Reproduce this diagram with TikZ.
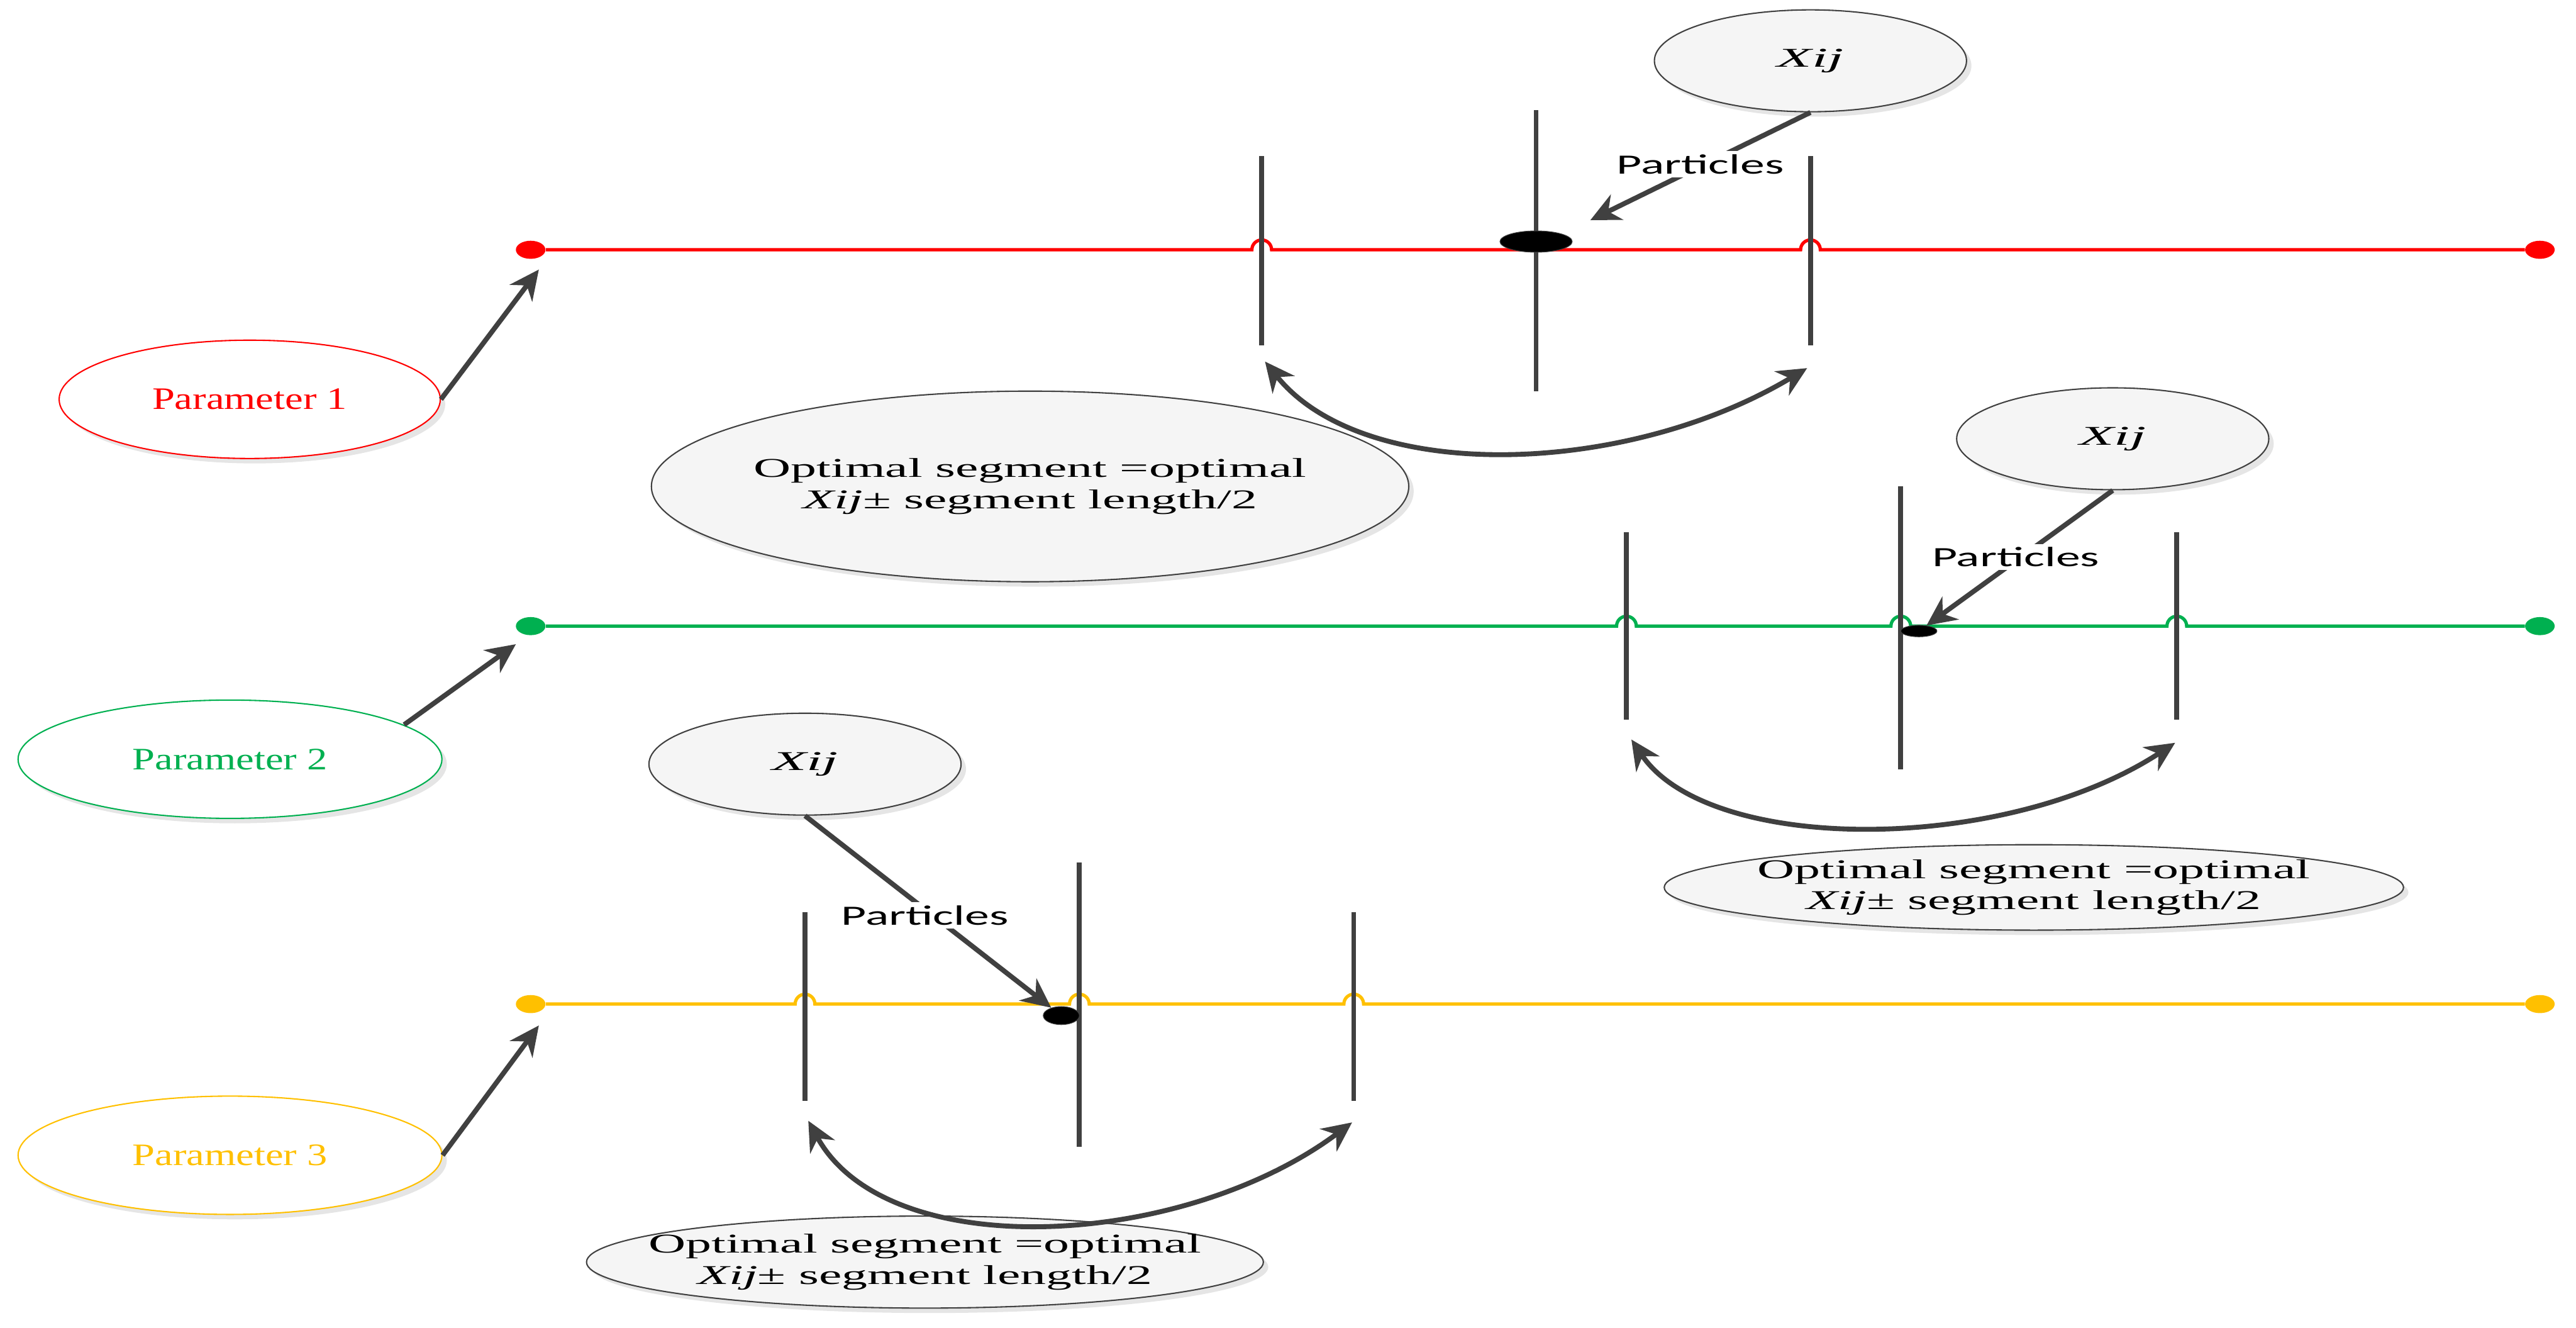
\documentclass[tikz,border=0pt]{standalone}
\usepackage{fontspec}
\setmainfont{Liberation Serif}
\newfontfamily\carl{Carlito}
\usetikzlibrary{shapes.geometric,shadows,arrows.meta}
\definecolor{pred}{HTML}{FF0000}
\definecolor{pgreen}{HTML}{00B050}
\definecolor{pyel}{HTML}{FFC000}
\definecolor{dk}{HTML}{404040}
\newcommand{\sxx}[2]{\scalebox{#1}[1]{#2}}
\begin{document}
\begin{tikzpicture}[x=1pt,y=-1pt,
  bub/.style={ellipse,draw=dk,line width=0.8pt,fill=gray!8,drop shadow={shadow xshift=3pt,shadow yshift=-3pt,fill=gray!40,opacity=0.5},inner sep=0pt},
  txt/.style={font=\fontsize{16.5}{19}\selectfont,align=center,inner sep=0pt},
  ptxt/.style={font=\fontsize{19}{22}\selectfont,inner sep=0pt},
  par/.style={ellipse,line width=0.8pt,fill=white,drop shadow={shadow xshift=3pt,shadow yshift=-3pt,fill=gray!40,opacity=0.5},inner sep=0pt},
  arr/.style={draw=dk,line width=3pt,-{Stealth[length=18pt,width=17pt]}},
  darr/.style={draw=dk,line width=3pt,{Stealth[length=18pt,width=17pt]}-{Stealth[length=18pt,width=17pt]}},
  bar/.style={draw=dk,line width=3pt},
  lbl/.style={fill=white,inner sep=2pt,font=\carl\fontsize{17}{19}\selectfont},
  dot/.style={ellipse,minimum width=18pt,minimum height=11pt,inner sep=0pt},
  pt/.style={ellipse,fill=black,draw=dk,inner sep=0pt}]
\useasboundingbox (0,0) rectangle (1568,808);

% ---------- Parameter 1 (red) ----------
\node[dot,fill=pred] (r0) at (323,152) {};
\node[dot,fill=pred] (r1) at (1546,152) {};
\draw[pred,line width=2pt] (r0) -- (762,152) arc (180:360:6) -- (1096,152) arc (180:360:6) -- (r1);
\coordinate (ra1) at (768,95); \coordinate (rb1) at (768,210);
\coordinate (ra2) at (935,67); \coordinate (rb2) at (935,238);
\coordinate (ra3) at (1102,95); \coordinate (rb3) at (1102,210);
\draw[bar] (ra1)--(rb1); \draw[bar] (ra2)--(rb2); \draw[bar] (ra3)--(rb3);
\node[pt,minimum width=44pt,minimum height=13pt] (rp) at (935,147) {};
\node[bub,minimum width=190pt,minimum height=62pt] (rx) at (1102,37) {};
\node[txt] at (rx) {\sxx{2.1}{\textit{Xij}}};
\draw[arr] (rx.south) -- (968,134);
\node[lbl] at (1035,100) {\sxx{1.75}{Particles}};
\node[par,draw=pred,minimum width=232pt,minimum height=72pt] (rpar) at (152,243) {};
\node[ptxt,text=pred] at (rpar) {\sxx{1.3}{Parameter 1}};
\draw[arr] (rpar.east) -- (328,164);
\node[bub,minimum width=461pt,minimum height=116pt] (ro) at (627,296) {};
\node[txt] at (ro) {\sxx{1.9}{Optimal segment =optimal}\\\sxx{1.9}{\textit{Xij}± segment length/2}};
\draw[darr] (770,220) .. controls (830,295) and (990,290) .. (1100,224);

% ---------- Parameter 2 (green) ----------
\node[dot,fill=pgreen] (g0) at (323,381) {};
\node[dot,fill=pgreen] (g1) at (1546,381) {};
\draw[pgreen,line width=2pt] (g0) -- (984,381) arc (180:360:6) -- (1151,381) arc (180:360:6) -- (1319,381) arc (180:360:6) -- (g1);
\coordinate (ga1) at (990,324); \coordinate (gb1) at (990,438);
\coordinate (ga2) at (1157,296); \coordinate (gb2) at (1157,468);
\coordinate (ga3) at (1325,324); \coordinate (gb3) at (1325,438);
\draw[bar] (ga1)--(gb1); \draw[bar] (ga2)--(gb2); \draw[bar] (ga3)--(gb3);
\node[pt,minimum width=22pt,minimum height=7pt] (gp) at (1168,384) {};
\node[bub,minimum width=190pt,minimum height=62pt] (gx) at (1286,267) {};
\node[txt] at (gx) {\sxx{2.1}{\textit{Xij}}};
\draw[arr] (gx.south) -- (gp);
\node[lbl] at (1227,339) {\sxx{1.75}{Particles}};
\node[par,draw=pgreen,minimum width=258pt,minimum height=72pt] (gpar) at (140,462) {};
\node[ptxt,text=pgreen] at (gpar) {\sxx{1.3}{Parameter 2}};
\draw[arr] (246,441) -- (314,392);
\node[bub,minimum width=450pt,minimum height=52pt] (go) at (1238,540) {};
\node[txt] at (go) {\sxx{1.9}{Optimal segment =optimal}\\\sxx{1.9}{\textit{Xij}± segment length/2}};
\draw[darr] (993,450) .. controls (1040,520) and (1220,520) .. (1324,452);

% ---------- Parameter 3 (yellow) ----------
\node[dot,fill=pyel] (y0) at (323,611) {};
\node[dot,fill=pyel] (y1) at (1546,611) {};
\draw[pyel,line width=2pt] (y0) -- (484,611) arc (180:360:6) -- (651,611) arc (180:360:6) -- (818,611) arc (180:360:6) -- (y1);
\coordinate (ya1) at (490,555); \coordinate (yb1) at (490,670);
\coordinate (ya2) at (657,525); \coordinate (yb2) at (657,698);
\coordinate (ya3) at (824,555); \coordinate (yb3) at (824,670);
\draw[bar] (ya1)--(yb1); \draw[bar] (ya2)--(yb2); \draw[bar] (ya3)--(yb3);
\node[pt,minimum width=22pt,minimum height=11pt] (yp) at (646,618) {};
\node[bub,minimum width=190pt,minimum height=62pt] (yx) at (490,465) {};
\node[txt] at (yx) {\sxx{2.1}{\textit{Xij}}};
\draw[arr] (yx.south) -- (yp);
\node[lbl] at (563,557) {\sxx{1.75}{Particles}};
\node[par,draw=pyel,minimum width=258pt,minimum height=72pt] (ypar) at (140,703) {};
\node[ptxt,text=pyel] at (ypar) {\sxx{1.3}{Parameter 3}};
\draw[arr] (ypar.east) -- (328,624);
\node[bub,minimum width=412pt,minimum height=56pt] (yo) at (563,768) {};
\node[txt] at (yo) {\sxx{1.9}{Optimal segment =optimal}\\\sxx{1.9}{\textit{Xij}± segment length/2}};
\draw[darr] (492,682) .. controls (540,770) and (720,760) .. (823,683);
\end{tikzpicture}
\end{document}
